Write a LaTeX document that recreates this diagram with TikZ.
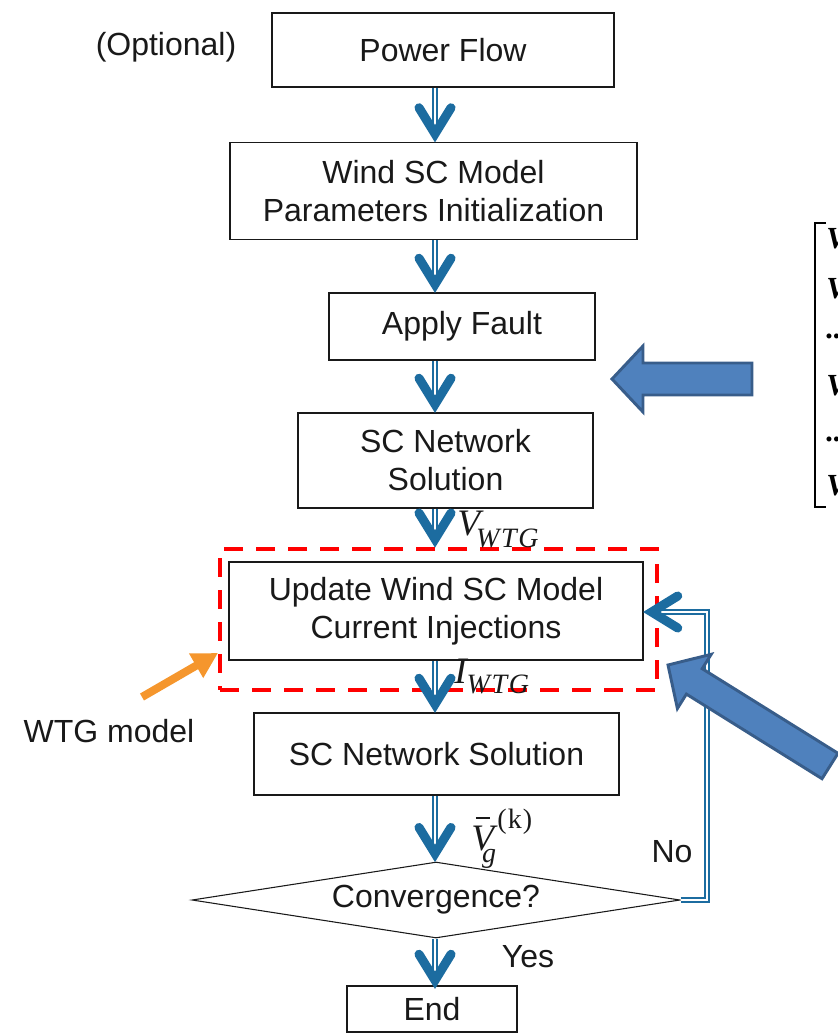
\documentclass[tikz,border=0pt]{standalone}
\usepackage{fix-cm}
\usepackage[no-math]{fontspec}
\setmainfont{Liberation Sans}
\newfontfamily\matfont{Liberation Serif}
\usetikzlibrary{calc,fit,shapes.geometric,arrows.meta}

\definecolor{flowblue}{RGB}{28,108,160}
\definecolor{blockfill}{RGB}{79,129,189}
\definecolor{blockedge}{RGB}{56,93,138}
\definecolor{hintorange}{RGB}{245,150,45}
\definecolor{ink}{RGB}{25,25,25}

\newcommand\pxl{0.75pt}
\newcommand\lbl{\fontsize{24}{28.5}\selectfont}
% italic serif symbols for the signal labels
\newcommand\sigfont{\matfont\itshape\fontsize{28}{30}\selectfont}
\newcommand\subfont{\matfont\itshape\fontsize{21}{22}\selectfont}
\newcommand\subwide[1]{\addfontfeature{LetterSpace=6}#1}
% V with a bar over it
\newcommand\barV{\rlap{\kern3.5pt\rule[23.5pt]{10.5pt}{1.1pt}}V}

% flow arrow: double shaft from #1 down to a chevron whose point is at #2
\newcommand\flowarrow[2]{%
  \draw[shaftline] (#1) -- ($(#2)+(0,-8)$);
  \draw[chevline] ($(#2)+(-16,-34)$) -- ($(#2)+(0,-8)$) -- ($(#2)+(16,-34)$);}

\begin{document}
\begin{tikzpicture}[x=0.75pt, y=-0.75pt,
  box/.style={draw=ink, line width=1.1pt, inner sep=0pt, align=center, font=\lbl, text=ink},
  sz/.style 2 args={minimum width=#1*\pxl, minimum height=#2*\pxl},
  decision/.style={diamond, draw=ink, line width=0.8pt, aspect=6.4, inner sep=0pt,
    minimum width=488*\pxl, minimum height=76*\pxl, font=\lbl, text=ink},
  plain/.style={font=\lbl, text=ink, inner sep=0pt},
  siglbl/.style={text=ink, inner sep=0pt, anchor=base west},
  shaftline/.style={draw=flowblue, line width=1.1pt, double=white, double distance=2.2pt, line join=miter},
  chevline/.style={draw=flowblue, line width=6.8pt, line cap=round, line join=miter},
  reddash/.style={draw=red, line width=3pt, dash pattern=on 14pt off 10pt, inner sep=0pt},
  blockarrow/.style={fill=blockfill, draw=blockedge, line width=2.2pt, line join=miter},
  matlbl/.style={font=\matfont\fontsize{23}{26}\selectfont\bfseries\itshape, text=black, inner sep=0pt, anchor=base west}
]
\useasboundingbox (0,0) rectangle (838,1035);

% ---- process boxes ----
\node[box, sz={342}{74}] (pf) at (443,50) {Power Flow};
\node[box, sz={407}{97}] (wind) at (433.5,191) {Wind SC Model\\Parameters Initialization};
\node[box, sz={266}{67}] (fault) at (462,326.5) {Apply Fault};
\node[box, sz={295}{95}] (sc1) at (445.5,460.5) {SC Network\\Solution};
\node[box, sz={414}{98}] (upd) at (436,611) {Update Wind SC Model\\Current Injections};
\node[box, sz={365}{82}] (sc2) at (436.5,754) {SC Network Solution};
\node[decision] (conv) at (436,900) {Convergence?};
\node[box, sz={170}{46}] (end) at (432,1009) {End};

% ---- WTG model frame ----
\node[reddash, fit={(220,549)(657,690)}] (wtgbox) {};

% ---- side texts ----
\node[plain] (opt) at (166,47) {(Optional)};
\node[plain] (wtgtxt) at (109,731) {WTG model};
\node[plain] (no) at (672,852) {No};
\node[plain] (yes) at (528,957) {Yes};

% ---- signal labels ----
\node[siglbl] (lv) at (457,535) {\sigfont V\kern-3pt\raisebox{-9pt}{\subfont\subwide{WTG}}};
\node[siglbl] (li) at (454,683) {\sigfont I\kern0pt\raisebox{-7.5pt}{\subfont\subwide{WTG}}};
\node[siglbl] (lg) at (471,850)
  {\sigfont\barV\kern-9pt\raisebox{-9pt}{\subfont g}\kern1pt\raisebox{16pt}{\subfont\upshape(\kern0.8pt k\kern0.8pt)}};

% ---- main flow ----
\coordinate (col) at (435,0);
\coordinate (t1) at (wind.north -| col);
\coordinate (t2) at (fault.north -| col);
\coordinate (t3) at (sc1.north -| col);
\coordinate (t4) at (wtgbox.north -| col);
\coordinate (t5) at (sc2.north -| col);
\coordinate (t6) at (conv.north -| col);
\coordinate (t7) at ($(end.north -| col)+(0,3)$);
\flowarrow{pf.south -| col}{t1}
\flowarrow{wind.south -| col}{t2}
\flowarrow{fault.south -| col}{t3}
\flowarrow{sc1.south -| col}{t4}
\flowarrow{upd.south -| col}{t5}
\flowarrow{sc2.south -| col}{t6}
\flowarrow{conv.south -| col}{t7}

% ---- feedback loop (No) ----
\coordinate (fbc) at (707,612);
\coordinate (t8) at (upd.east |- fbc);
\draw[shaftline] (conv.east) -| (fbc) -- ($(t8)+(8,0)$);
\draw[chevline] ($(t8)+(34,-16)$) -- ($(t8)+(8,0)$) -- ($(t8)+(34,16)$);

% ---- orange pointer to the WTG frame ----
\coordinate (otail) at (142,697);
\coordinate (otip) at (wtgbox.west |- 0,653);
\draw[hintorange, line width=6pt, -{Triangle[length=19pt, width=20pt]}] (otail) -- (otip);

% ---- block arrows ----
\draw[blockarrow] (612,379) -- (643,346) -- (643,363) -- (752,363) -- (752,395)
  -- (643,395) -- (643,412) -- cycle;
\begin{scope}
\clip (0,0) rectangle (838,1035);
\draw[blockarrow] (668,665) -- (711.2,654.3) -- (702.2,668.7) -- (838,753.3)
  -- (822,778.7) -- (686.4,694.1) -- (677.4,708.5) -- cycle;

% ---- vector bracket at the right edge ----
\draw[black, line width=1.6pt] (826,223) -- (815,223) -- (815,507) -- (826,507);
\node[matlbl] (m1) at (826,248) {V};
\node[matlbl] (m2) at (826,298) {V};
\node[matlbl] (m3) at (826,338) {...};
\node[matlbl] (m4) at (826,395) {V};
\node[matlbl] (m5) at (826,441) {...};
\node[matlbl] (m6) at (826,495) {V};
\end{scope}
\end{tikzpicture}
\end{document}
